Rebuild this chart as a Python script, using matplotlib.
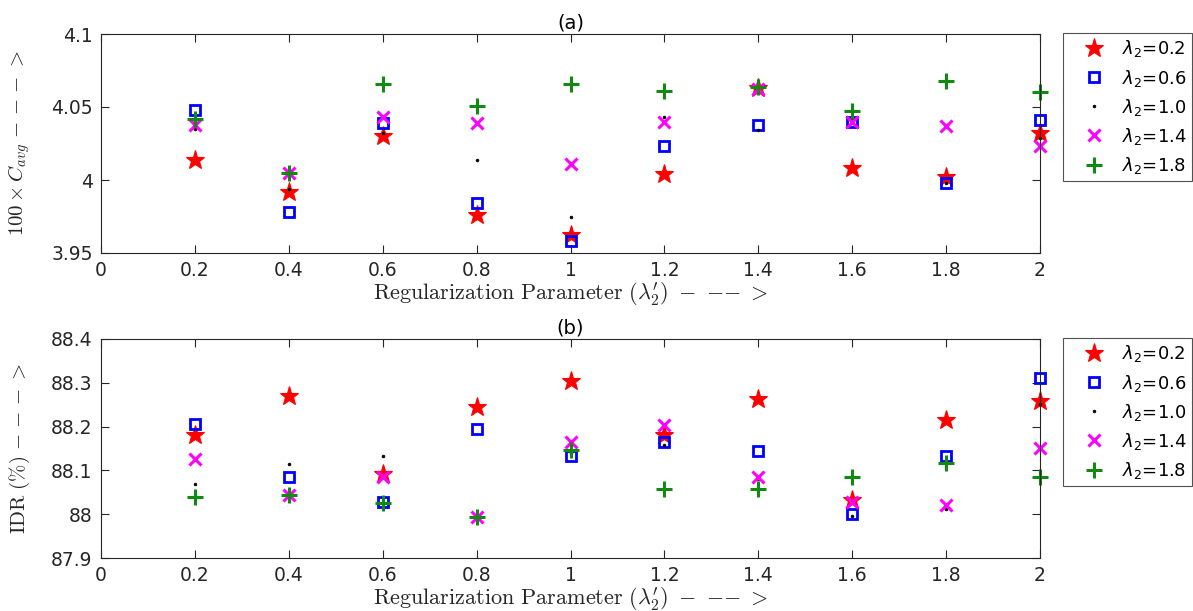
import matplotlib
matplotlib.use("Agg")
import matplotlib.pyplot as plt
from matplotlib.font_manager import FontProperties

x_vals = [0.2, 0.4, 0.6, 0.8, 1.0, 1.2, 1.4, 1.6, 1.8, 2.0]
series_labels = ["0.2", "0.6", "1.0", "1.4", "1.8"]

# Panel (a): 100 x C_avg
cavg_02 = [4.014, 3.992, 4.030, 3.976, 3.962, 4.004, 4.063, 4.008, 4.002, 4.032]
cavg_06 = [4.048, 3.978, 4.039, 3.984, 3.958, 4.023, 4.038, 4.040, 3.998, 4.041]
cavg_10 = [4.035, 3.994, 4.032, 4.014, 3.975, 4.043, 4.034, 4.041, 3.998, 4.029]
cavg_14 = [4.038, 4.005, 4.043, 4.039, 4.011, 4.040, 4.062, 4.040, 4.037, 4.023]
cavg_18 = [4.042, 4.005, 4.066, 4.051, 4.066, 4.061, 4.064, 4.047, 4.068, 4.060]

# Panel (b): IDR (%)
idr_02 = [88.181, 88.270, 88.092, 88.245, 88.305, 88.180, 88.264, 88.032, 88.214, 88.259]
idr_06 = [88.207, 88.085, 88.028, 88.195, 88.133, 88.164, 88.145, 88.001, 88.132, 88.312]
idr_10 = [88.070, 88.115, 88.133, 87.986, 88.140, 88.158, 88.080, 87.996, 88.013, 88.252]
idr_14 = [88.127, 88.044, 88.086, 87.994, 88.164, 88.204, 88.085, 88.028, 88.021, 88.152]
idr_18 = [88.039, 88.044, 88.025, 87.994, 88.146, 88.057, 88.057, 88.085, 88.116, 88.085]

yticks_a = [3.95, 4.0, 4.05, 4.1]
yticklabels_a = ["3.95", "4", "4.05", "4.1"]
yticks_b = [87.9, 88.0, 88.1, 88.2, 88.3, 88.4]
yticklabels_b = ["87.9", "88", "88.1", "88.2", "88.3", "88.4"]
xticks = [0, 0.2, 0.4, 0.6, 0.8, 1.0, 1.2, 1.4, 1.6, 1.8, 2.0]
xticklabels = ["0", "0.2", "0.4", "0.6", "0.8", "1", "1.2", "1.4", "1.6", "1.8", "2"]

styles = [
    dict(marker="*", color="#ff0000", ms=14, mew=0.8, mfc="#ff0000"),
    dict(marker="s", color="#0000ff", ms=7, mew=2.0, mfc="none"),
    dict(marker=".", color="#000000", ms=4, mew=0.5, mfc="#000000"),
    dict(marker="x", color="#ff00ff", ms=9, mew=2.2, mfc="none"),
    dict(marker="+", color="#108a10", ms=11, mew=2.2, mfc="none"),
]

plt.rcParams["font.family"] = ["DejaVu Sans"]

fig = plt.figure(figsize=(11.93, 6.11), dpi=100)
W, H = 1193, 611
axA = fig.add_axes([101 / W, 1 - 253 / H, (1040 - 101) / W, (253 - 34) / H])
axB = fig.add_axes([101 / W, 1 - 558 / H, (1040 - 101) / W, (558 - 339) / H])

cm_font = FontProperties(family="DejaVu Serif", size=16, math_fontfamily="cm")
cm_font_y = FontProperties(family="DejaVu Serif", size=15, math_fontfamily="cm")
leg_font = FontProperties(family="DejaVu Sans", size=13, math_fontfamily="dejavusans")

panels = [
    (axA, [cavg_02, cavg_06, cavg_10, cavg_14, cavg_18], (3.95, 4.1), yticks_a, yticklabels_a,
     r"$100\times C_{avg}\ {-}\ {-}\ {-}\ >$", "(a)", 33),
    (axB, [idr_02, idr_06, idr_10, idr_14, idr_18], (87.9, 88.4), yticks_b, yticklabels_b,
     r"$\mathrm{IDR}\ (\%)\ {-}\ {-}\ {-}\ >$", "(b)", 338),
]

for ax, data, ylim, yt, ytl, ylab, title, legtop in panels:
    handles = []
    for vals, st, lab in zip(data, styles, series_labels):
        h, = ax.plot(x_vals, vals, linestyle="none", marker=st["marker"], color=st["color"],
                     markersize=st["ms"], markeredgewidth=st["mew"], markerfacecolor=st["mfc"],
                     label=r"$\lambda_2$=" + lab, clip_on=False)
        handles.append(h)
    ax.set_xlim(0, 2)
    ax.set_ylim(*ylim)
    ax.set_xticks(xticks)
    ax.set_xticklabels(xticklabels)
    ax.set_yticks(yt)
    ax.set_yticklabels(ytl)
    ax.tick_params(direction="in", top=True, right=True, length=6, width=0.8,
                   labelsize=13.5, colors="#262626", pad=6)
    for sp in ax.spines.values():
        sp.set_color("#262626")
        sp.set_linewidth(0.8)
    ax.set_xlabel(r"$\mathrm{Regularization\ Parameter}\ (\lambda_2^{\prime})\ -\ {-}{-}\ >$",
                  fontproperties=cm_font, color="#262626")
    ax.xaxis.set_label_coords(0.5, -0.125)
    ax.set_ylabel(ylab, fontproperties=cm_font_y, color="#262626")
    ax.yaxis.set_label_coords(-0.073, 0.5)
    ax.set_title(title, fontsize=14, color="#000000", pad=4)
    leg = fig.legend(handles=handles, loc="upper left",
                     bbox_to_anchor=(1063 / W, 1 - legtop / H),
                     prop=leg_font, frameon=True, fancybox=False, edgecolor="#262626",
                     labelspacing=0.45, handlelength=2.8, handletextpad=0.15,
                     borderpad=0.3, borderaxespad=0)
    leg.get_frame().set_linewidth(0.8)

fig.savefig("out.png", dpi=100)
